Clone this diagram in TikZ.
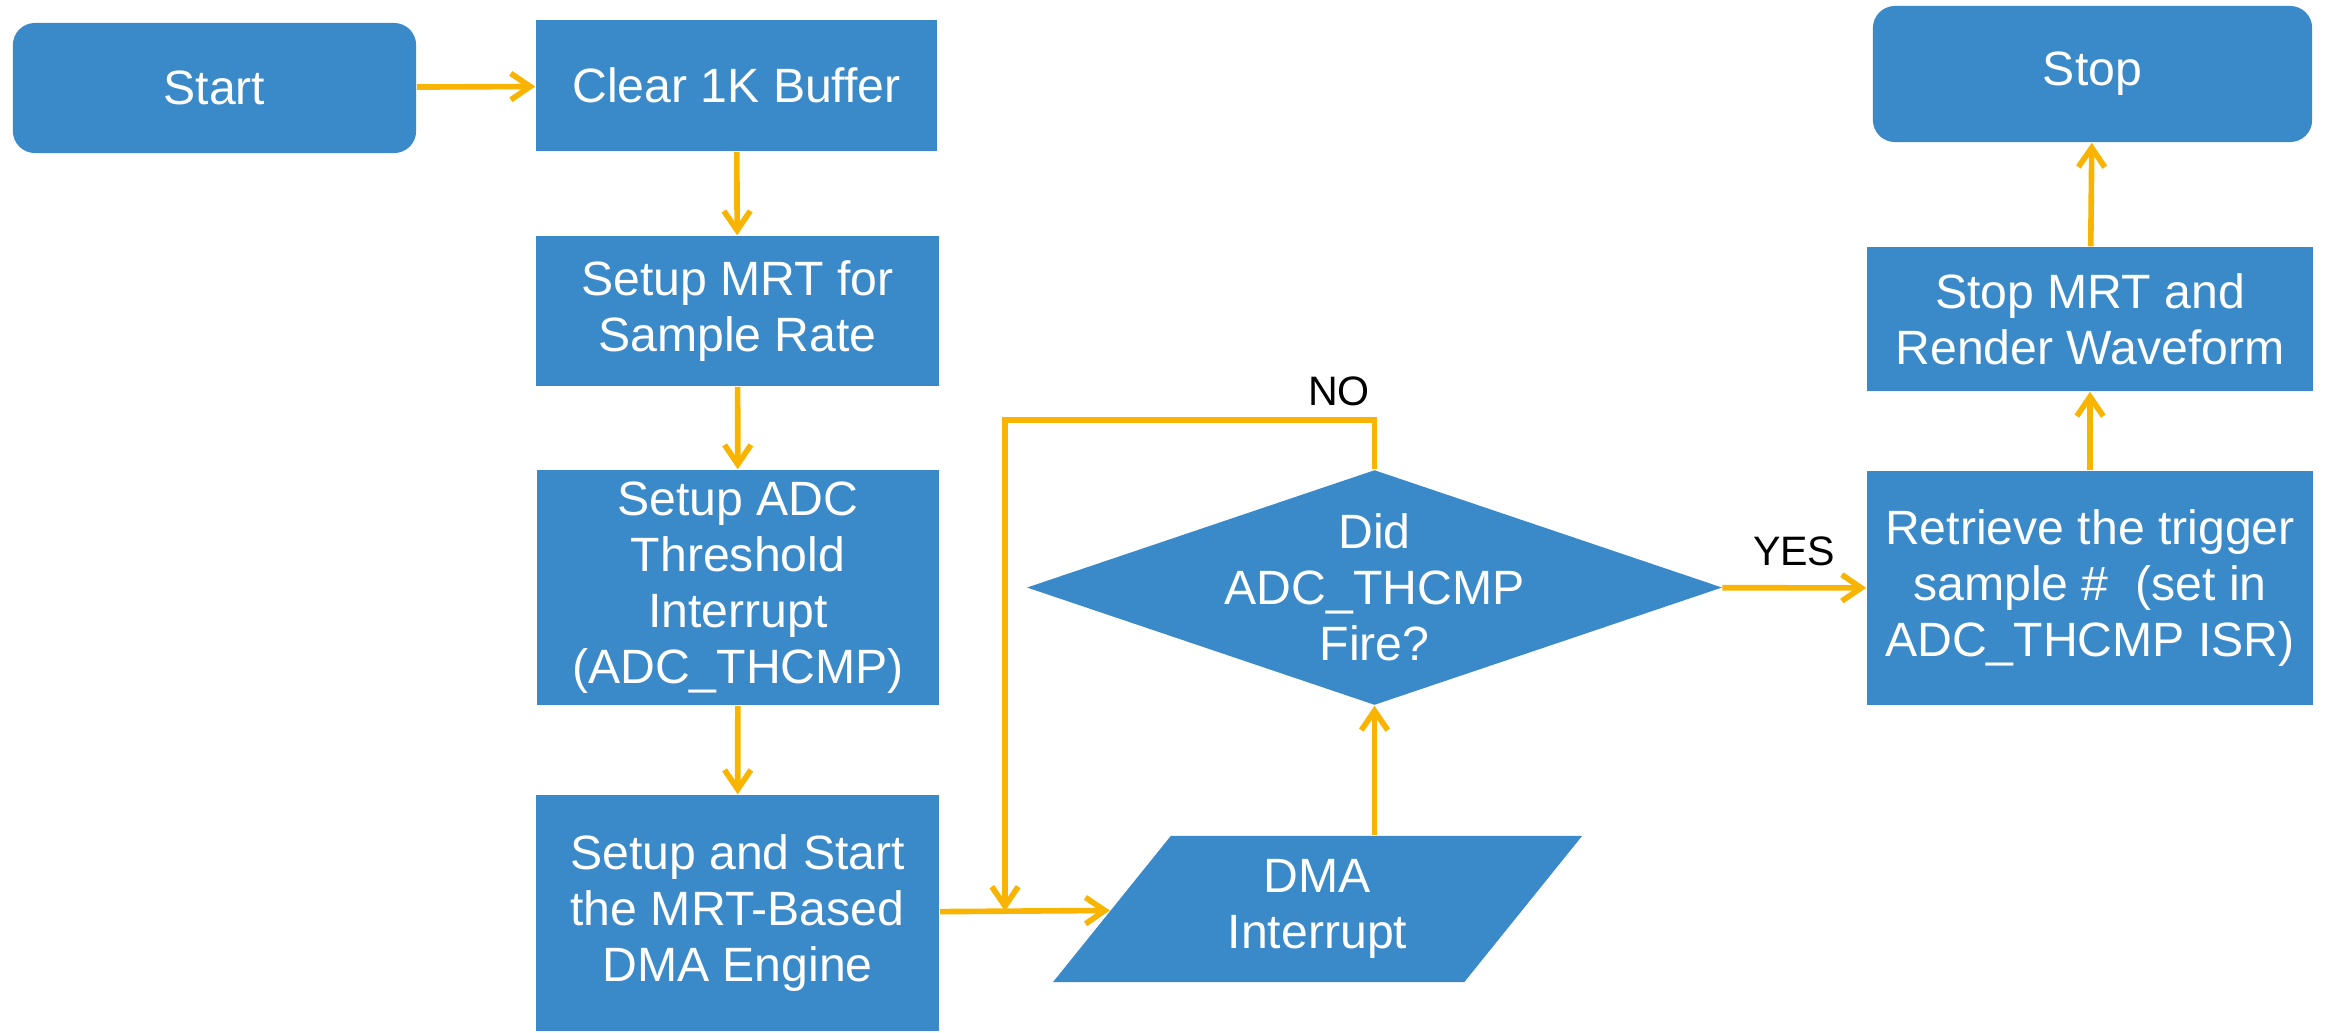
\documentclass[tikz,border=0pt]{standalone}
\usepackage{fontspec}
\setmainfont{Liberation Sans}
\usepackage{tikz}
\usetikzlibrary{shapes.geometric, positioning, calc, arrows.meta}
\definecolor{flowblue}{RGB}{58,137,201}
\definecolor{flowamber}{RGB}{248,180,0}
\tikzset{process box/.style={fill=flowblue, text=white, rectangle, align=center, inner sep=0pt, font=\fontsize{13.7}{15.9}\selectfont}}
\tikzset{terminal box/.style={process box, rounded corners=0.22cm}}
\tikzset{decision box/.style={fill=flowblue, diamond, inner sep=0pt}}
\tikzset{io box/.style={process box, trapezium, trapezium left angle=54, trapezium right angle=126, trapezium stretches=true}}
\tikzset{answer label/.style={text=black, font=\fontsize{11.7}{14}\selectfont}}

\begin{document}
\begin{tikzpicture}[x=0.01cm, y=-0.01cm, >={Straight Barb[length=5.5pt,width=7.5pt]}, flow/.style={draw=flowamber, line width=1.6pt, ->}]
\useasboundingbox (0,0) rectangle (2334,1032);
\node[terminal box, minimum width=4.03cm, minimum height=1.30cm] (start) at (214.5,88) {Start};
\node[process box, minimum width=4.01cm, minimum height=1.31cm] (clear) at (736.5,85.5) {Clear 1K Buffer};
\node[process box, minimum width=4.03cm, minimum height=1.50cm] (mrt) at (737.5,311) {Setup MRT for\\Sample Rate};
\node[process box, minimum width=4.01cm, minimum height=2.35cm] (adc) at (738,587.5) {Setup ADC\\Threshold\\Interrupt\\(ADC\_THCMP)};
\node[process box, minimum width=4.03cm, minimum height=2.36cm] (dmastart) at (737.5,913) {Setup and Start\\the MRT-Based\\DMA Engine};
\node[io box, minimum width=5.33cm, minimum height=1.46cm] (dma) at (1317.5,909) {DMA\\Interrupt};
\node[decision box, minimum width=6.95cm, minimum height=2.35cm, label={[process box, fill=none]center:Did\\ADC\_THCMP\\Fire?}] (fire) at (1374.5,587.5) {};
\node[process box, minimum width=4.46cm, minimum height=2.34cm] (retrieve) at (2090,588) {Retrieve the trigger\\sample \#\ \ (set in\\ADC\_THCMP ISR)};
\node[process box, minimum width=4.46cm, minimum height=1.44cm] (stopmrt) at (2090,319) {Stop MRT and\\Render Waveform};
\node[terminal box, minimum width=4.39cm, minimum height=1.36cm] (stop) at (2092.5,74) {Stop};
\coordinate (merge) at (1005,911);
\draw[flow] (start) -- (clear);
\draw[flow] (clear) -- (mrt);
\draw[flow] (mrt) -- (adc);
\draw[flow] (adc) -- (dmastart);
\draw[flow] (dmastart) -- (dma);
\draw[flow] (fire.south |- dma.north) -- (fire.south);
\draw[flow] (fire.north) -- ++(0,-49) node[answer label, above left, xshift=0.1cm] (no) {NO} -| (merge);
\draw[flow] (fire) -- node[answer label, above=2pt] (yes) {YES} (retrieve);
\draw[flow] (retrieve) -- (stopmrt);
\draw[flow] (stopmrt) -- (stop);
\end{tikzpicture}
\end{document}
